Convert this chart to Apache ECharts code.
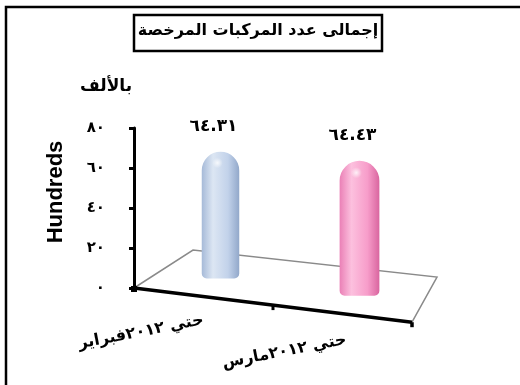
<!DOCTYPE html>
<html>
<head>
<meta charset="utf-8">
<script src="https://cdn.jsdelivr.net/npm/echarts@6/dist/echarts.min.js"></script>
<style>
html, body { margin: 0; padding: 0; background: #fff; overflow: hidden; }
#main { width: 520px; height: 385px; }
</style>
</head>
<body>
<div id="main"></div>
<script>
// البيانات
var categories = ['حتي ٢٠١٢فبراير', 'حتي ٢٠١٢مارس'];
var values = [64.31, 64.43];
var yTicks = [0, 20, 40, 60, 80];
var barColors = [
    ['#a6bad8', '#dce6f3', '#c2d2ea', '#92a8ca'],
    ['#ea80b6', '#fcc0de', '#f79dca', '#d9659f']
];

// شكل الأرضية
var GL = 134, GT = 128, GW = 278, GH = 160;
var SLOPE = 0.123;   // الحافة الأمامية مائلة للأسفل
var LIFT = 18;       // الأعمدة في منتصف عمق الأرضية
var SHIFT = 17;
var arabicFont = '"DejaVu Sans", sans-serif';

function toArabicDigits(s) {
    return String(s).replace(/[0-9]/g, function (d) {
        return '٠١٢٣٤٥٦٧٨٩'.charAt(+d);
    });
}

function persp(x) {
    return 0.98 + (x - 205) * 0.00043;
}

var chart = echarts.init(document.getElementById('main'));

var FL = [GL, GT + GH];
var FR = [GL + GW, GT + GH + GW * SLOPE];
var BR = [437, 277];
var BL = [193, 250];
var MID = [GL + GW / 2, GT + GH + GW / 2 * SLOPE];

chart.setOption({
    animation: false,
    title: [{
        text: 'إجمالى عدد المركبات المرخصة',
        left: 258,
        top: 23,
        padding: 0,
        textAlign: 'center',
        textStyle: {
            fontFamily: arabicFont,
            fontWeight: 'bold',
            fontSize: 16,
            color: '#000'
        }
    }, {
        text: 'بالألف',
        left: 80,
        top: 78,
        padding: 0,
        textStyle: {
            fontFamily: arabicFont,
            fontWeight: 'bold',
            fontSize: 17,
            color: '#000'
        }
    }],
    graphic: [
        {
            type: 'polyline',
            shape: {points: [[6, 390], [6, 7], [525, 7]]},
            style: {fill: null, stroke: '#000', lineWidth: 2.5},
            silent: true
        },
        {
            type: 'rect',
            shape: {x: 134, y: 15, width: 248, height: 36},
            style: {fill: null, stroke: '#000', lineWidth: 2.5},
            silent: true
        },
        {
            type: 'polyline',
            shape: {points: [FL, BL, BR, FR]},
            style: {fill: null, stroke: '#8a8a8a', lineWidth: 1.5},
            z: 0,
            silent: true
        },
        {
            type: 'polyline',
            shape: {points: [FL, FR]},
            style: {fill: null, stroke: '#000', lineWidth: 3.5},
            z: 1,
            silent: true
        },
        {
            type: 'line',
            shape: {x1: MID[0], y1: MID[1], x2: MID[0], y2: MID[1] + 5},
            style: {stroke: '#000', lineWidth: 3},
            silent: true
        },
        {
            type: 'line',
            shape: {x1: FR[0], y1: FR[1], x2: FR[0], y2: FR[1] + 5},
            style: {stroke: '#000', lineWidth: 3.5},
            silent: true
        },
        {
            type: 'rect',
            shape: {x: FL[0] - 3, y: FL[1] - 2, width: 6, height: 6},
            style: {fill: '#000'},
            silent: true
        }
    ],
    grid: {
        left: GL,
        top: GT,
        width: GW,
        height: GH
    },
    xAxis: {
        type: 'category',
        data: categories,
        axisLine: {show: false},
        axisTick: {show: false},
        axisLabel: {
            rotate: 11,
            margin: 32,
            formatter: function (v, i) {
                return i ? '{lo|' + v + '}' : '{hi|' + v + '}';
            },
            rich: {
                hi: {fontFamily: arabicFont, fontWeight: 'bold', fontSize: 16, color: '#000'},
                lo: {fontFamily: arabicFont, fontWeight: 'bold', fontSize: 16, color: '#000', padding: [40, 0, 0, 0]}
            }
        }
    },
    yAxis: {
        type: 'value',
        min: 0,
        max: 80,
        interval: 20,
        name: 'Hundreds',
        nameLocation: 'middle',
        nameRotate: 90,
        nameGap: 67,
        nameTextStyle: {
            fontFamily: '"Liberation Sans", Arial, sans-serif',
            fontWeight: 'bold',
            fontSize: 22,
            color: '#000',
            padding: [0, 0, 0, 32]
        },
        axisLine: {show: true, lineStyle: {color: '#000', width: 3}},
        axisTick: {show: true, length: 5, lineStyle: {color: '#000', width: 3}},
        splitLine: {show: false},
        axisLabel: {
            margin: 29,
            fontFamily: arabicFont,
            fontWeight: 'bold',
            fontSize: 15,
            color: '#000',
            formatter: function (v) {
                return toArabicDigits(v);
            }
        }
    },
    series: [{
        type: 'custom',
        data: values.map(function (v, i) { return [i, v]; }),
        encode: {x: 0, y: 1},
        z: 3,
        renderItem: function (params, api) {
            var i = api.value(0);
            var foot = api.coord([i, 0]);
            var x = foot[0] + SHIFT;
            var y = foot[1] + (foot[0] - GL) * SLOPE - LIFT;
            var k = persp(x);
            var h = api.size([0, api.value(1)])[1] * k;
            var w = 38 * k;
            var c = barColors[i];
            return {
                type: 'group',
                children: [{
                    type: 'rect',
                    shape: {x: x - w / 2, y: y - h, width: w, height: h, r: [w / 2, w / 2, 5, 5]},
                    style: {
                        fill: new echarts.graphic.LinearGradient(0, 0, 1, 0, [
                            {offset: 0, color: c[0]},
                            {offset: 0.3, color: c[1]},
                            {offset: 0.7, color: c[2]},
                            {offset: 1, color: c[3]}
                        ])
                    }
                }, {
                    type: 'ellipse',
                    shape: {cx: x - w * 0.08, cy: y - h + w * 0.3, rx: w * 0.3, ry: w * 0.14},
                    style: {
                        fill: new echarts.graphic.RadialGradient(0.5, 0.5, 0.5, [
                            {offset: 0, color: 'rgba(255,255,255,0.8)'},
                            {offset: 1, color: 'rgba(255,255,255,0)'}
                        ])
                    }
                }, {
                    type: 'text',
                    style: {
                        text: toArabicDigits(api.value(1).toFixed(2)),
                        x: x - 7,
                        y: y - h - 25,
                        align: 'center',
                        verticalAlign: 'middle',
                        font: 'bold 17px "DejaVu Sans", sans-serif',
                        fill: '#000'
                    }
                }]
            };
        }
    }]
});
</script>
</body>
</html>
